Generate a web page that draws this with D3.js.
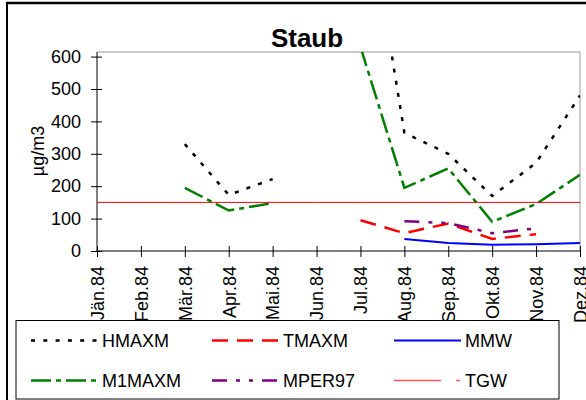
<!DOCTYPE html>
<html><head><meta charset="utf-8">
<script src="https://cdn.jsdelivr.net/npm/d3@7"></script>
<style>body{margin:0;background:#fff}svg{display:block;font-family:"Liberation Sans",Arial,sans-serif}</style>
</head><body>
<script>
const months = ["Jän.84","Feb.84","Mär.84","Apr.84","Mai.84","Jun.84","Jul.84","Aug.84","Sep.84","Okt.84","Nov.84","Dez.84"];
const HMAXM  = [null,null,330,173,222,null,1200,365,300,170,272,480];
const M1MAXM = [null,null,195,125,148,null,630,195,255,90,145,235];
const TMAXM  = [null,null,null,null,null,null,95,55,85,37,52,null];
const MMW    = [null,null,null,null,null,null,null,37,25,19,21,25];
const MPER97 = [null,null,null,null,null,null,null,92,86,55,70,null];
const TGW    = [150,150,150,150,150,150,150,150,150,150,150,150];
const yTicks = [0,100,200,300,400,500,600];

const series = [
  {name:"HMAXM", values:HMAXM, color:"#000", dash:"4,8.3", width:2.5},
  {name:"TMAXM", values:TMAXM, color:"#ff0000", dash:"16,9", width:2.5},
  {name:"MMW", values:MMW, color:"#0000ff", dash:null, width:2},
  {name:"M1MAXM", values:M1MAXM, color:"#008000", dash:"20,5,5,5", width:2.5},
  {name:"MPER97", values:MPER97, color:"#800080", dash:"15,9,4,9,4,9", width:2.5},
  {name:"TGW", values:TGW, color:"#ff0000", dash:null, width:1}
];

const W=586,H=400, FS=18;
const svg=d3.select("body").append("svg").attr("width",W).attr("height",H);
const pl=97, pr=580, pt=52, pb=251;
const x=d3.scalePoint().domain(months).range([pl,pr]);
const y=d3.scaleLinear().domain([0,600]).range([pb,56.6]);

// outer frame
svg.append("line").attr("x1",7).attr("x2",7).attr("y1",2).attr("y2",H).attr("stroke","#000").attr("stroke-width",2);
svg.append("line").attr("x1",6).attr("x2",W).attr("y1",3).attr("y2",3).attr("stroke","#000").attr("stroke-width",2.5);

// title
svg.append("text").attr("x",307).attr("y",46.5).attr("text-anchor","middle")
  .attr("font-size",26).attr("font-weight","bold").text("Staub");

// plot frame (top/right gray)
svg.append("path").attr("d",`M${pl},${pt}H${pr}V${pb}`).attr("fill","none").attr("stroke","#999").attr("stroke-width",1);

svg.append("defs").append("clipPath").attr("id","clip").append("rect")
  .attr("x",pl).attr("y",pt).attr("width",pr-pl).attr("height",pb-pt);

const line=d3.line().defined(d=>d.v!=null).x(d=>x(d.m)).y(d=>y(d.v));
const g=svg.append("g").attr("clip-path","url(#clip)");
series.forEach(s=>{
  g.append("path").datum(months.map((m,i)=>({m,v:s.values[i]})))
   .attr("d",line).attr("fill","none").attr("stroke",s.color)
   .attr("stroke-width",s.width).attr("stroke-dasharray",s.dash);
});

// y axis
const ya=svg.append("g").attr("transform",`translate(${pl},0)`)
  .call(d3.axisLeft(y).tickValues(yTicks).tickSize(0).tickPadding(16));
ya.select(".domain").remove();
ya.selectAll("text").attr("font-size",FS).attr("fill","#000").attr("font-family","Liberation Sans, Arial");
ya.selectAll(".tick").append("line").attr("x1",-6).attr("x2",5).attr("stroke","#000");
svg.append("line").attr("x1",pl).attr("x2",pl).attr("y1",pt).attr("y2",pb).attr("stroke","#000");

// x axis
const xa=svg.append("g").attr("transform",`translate(0,${pb})`)
  .call(d3.axisBottom(x).tickSize(0).tickFormat(""));
xa.select(".domain").remove();
svg.append("line").attr("x1",pl).attr("x2",pr).attr("y1",pb).attr("y2",pb).attr("stroke","#000");
xa.selectAll(".tick").append("line").attr("y1",-5).attr("y2",6).attr("stroke","#000");
xa.selectAll(".tick").append("text")
  .attr("transform","translate(0,15) rotate(-90)")
  .attr("text-anchor","end").attr("dy","0.35em").attr("font-size",FS).attr("fill","#000")
  .attr("font-family","Liberation Sans, Arial")
  .text(d=>d);

// y label
svg.append("text").attr("transform","translate(44,151) rotate(-90)").attr("text-anchor","middle")
  .attr("font-size",FS).text("µg/m3");

// legend
svg.append("rect").attr("x",16).attr("y",320.5).attr("width",543).attr("height",78.5)
  .attr("fill","#fff").attr("stroke","#000").attr("stroke-width",1);
const cols=[31,212,394], rows=[340.5,380.5];
series.forEach((s,i)=>{
  const cx=cols[i%3], cy=rows[Math.floor(i/3)];
  const isT=s.name==="TGW";
  svg.append("line").attr("x1",cx).attr("x2",cx+67).attr("y1",cy).attr("y2",cy)
    .attr("stroke",isT?"#ff5a5a":s.color).attr("stroke-width",isT?1.5:s.width)
    .attr("stroke-dasharray",isT?"47,15,4,10":s.dash);
  svg.append("text").attr("x",cx+71).attr("y",cy).attr("dy","0.35em").attr("font-size",FS).text(s.name);
});
</script>
</body></html>
